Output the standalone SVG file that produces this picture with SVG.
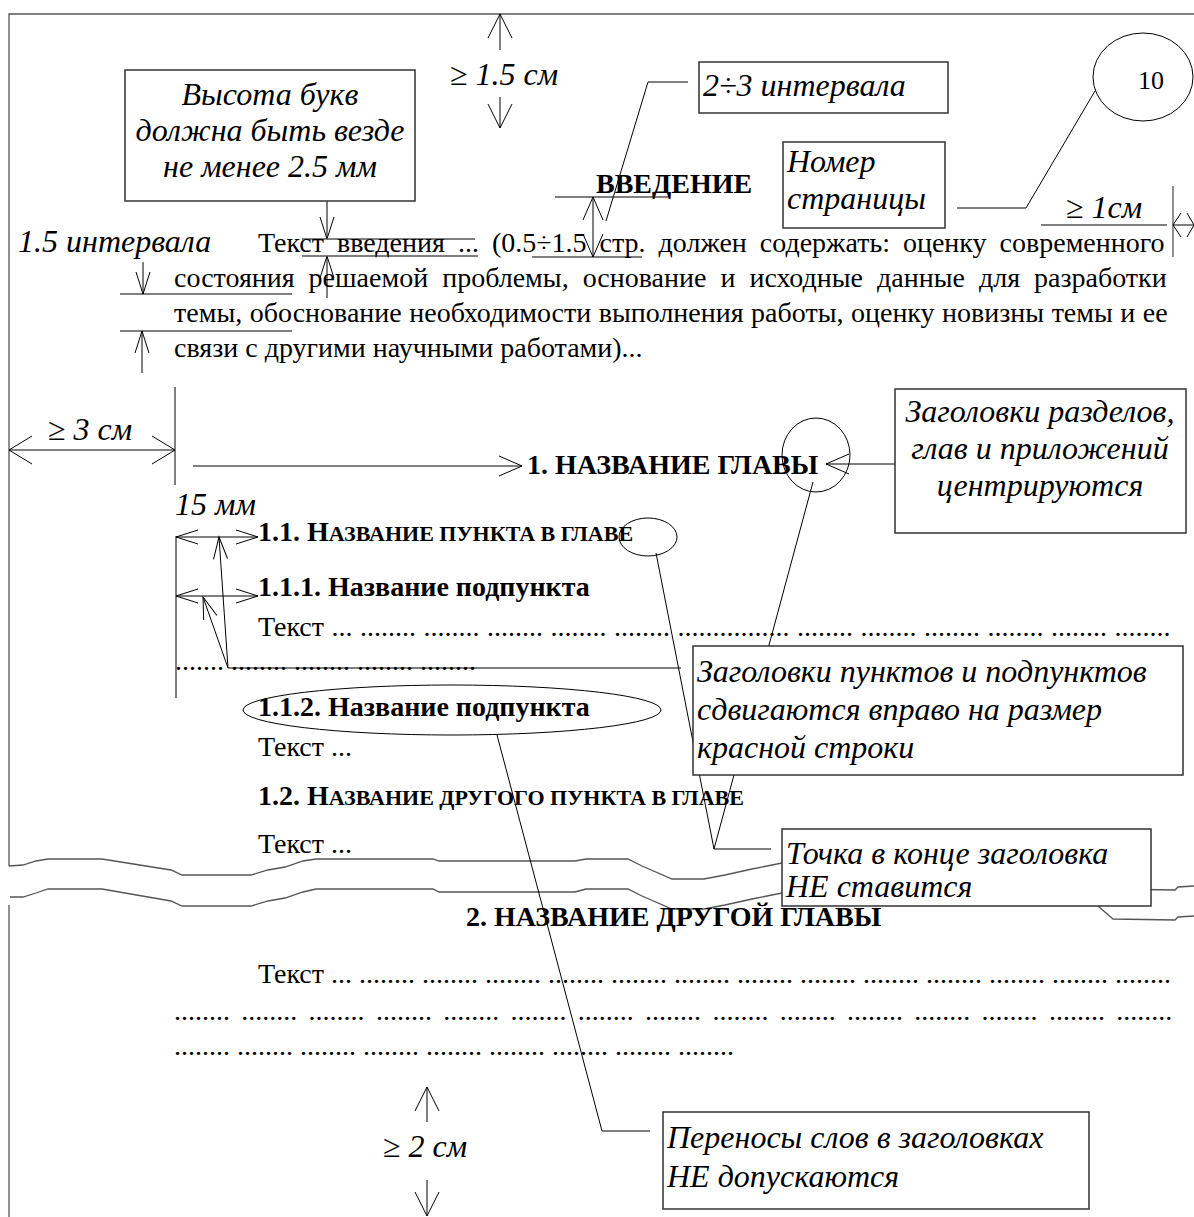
<svg xmlns="http://www.w3.org/2000/svg" width="1194" height="1217" viewBox="0 0 1194 1217">
<style>
text{font-family:"Liberation Serif","Times New Roman",serif;font-size:28px;fill:#000}
.i{font-style:italic;font-size:32px}
.b{font-weight:bold}
.sc{font-size:22px}
.ln{stroke:#000;stroke-width:1;fill:none}
.gr{stroke:#555;stroke-width:1.3;fill:none}
.box{fill:#fff;stroke:#333;stroke-width:1.5}
.el{fill:none;stroke:#000;stroke-width:1}
</style>
<defs>
<marker id="big" markerUnits="userSpaceOnUse" markerWidth="30" markerHeight="30" refX="24" refY="12" orient="auto-start-reverse" overflow="visible"><path d="M0,0 L24,12 L0,24" fill="none" stroke="#000" stroke-width="1"/></marker>
<marker id="mid" markerUnits="userSpaceOnUse" markerWidth="30" markerHeight="30" refX="23" refY="10" orient="auto-start-reverse" overflow="visible"><path d="M0,0 L23,10 L0,20" fill="none" stroke="#000" stroke-width="1"/></marker>
<marker id="thin" markerUnits="userSpaceOnUse" markerWidth="30" markerHeight="30" refX="22" refY="7" orient="auto-start-reverse" overflow="visible"><path d="M0,0 L22,7 L0,14" fill="none" stroke="#000" stroke-width="1"/></marker>
<marker id="wide" markerUnits="userSpaceOnUse" markerWidth="30" markerHeight="30" refX="23" refY="14" orient="auto-start-reverse" overflow="visible"><path d="M0,0 L23,14 L0,28" fill="none" stroke="#000" stroke-width="1"/></marker>
</defs>

<g id="page">
<path class="gr" d="M9,866 L9,14 L1194,14"/>
<path class="gr" d="M9,905 L9,1217"/>
<path class="gr" d="M9,866 L23,865 L36,861 L48,859 L102,859 L171,870 L182,875 L251,875 L268,870 L285,867 L303,861 L316,859 L433,859 L439,861 L575,861 L586,859 L628,859 L642,866 L672,879 L704,879 L725,875 L752,869 L782,863 L800,859 L1080,859 L1098,876 L1113,889 L1175,890 L1178,887 L1194,886"/>
<path class="gr" d="M10,897 L23,897 L36,893 L48,889 L102,889 L171,901 L182,906 L251,906 L268,901 L285,898 L303,892 L316,889 L433,889 L439,892 L575,892 L586,889 L628,889 L642,896 L672,909 L704,909 L725,905 L752,899 L782,893 L800,889 L1080,889 L1098,906 L1113,919 L1175,920 L1178,917 L1194,916"/>
</g>

<g id="connectors">
<line class="ln" x1="500" y1="50" x2="500" y2="14" marker-end="url(#big)"/>
<line class="ln" x1="500" y1="97" x2="500" y2="128" marker-end="url(#big)"/>
<line class="ln" x1="327" y1="201" x2="327" y2="239" marker-end="url(#thin)"/>
<line class="ln" x1="327" y1="298" x2="327" y2="256" marker-end="url(#thin)"/>
<line class="gr" x1="302" y1="239" x2="475" y2="239"/>
<line class="gr" x1="302" y1="256" x2="478" y2="256"/>
<line class="ln" x1="593" y1="197" x2="593" y2="257" marker-start="url(#mid)" marker-end="url(#mid)"/>
<line class="ln" x1="555" y1="197" x2="668" y2="197"/>
<line class="ln" x1="532" y1="257" x2="642" y2="257"/>
<polyline class="ln" points="688,82 648,82 606,221"/>
<polyline class="ln" points="957,208 1026,208 1095,91"/>
<line class="gr" x1="1041" y1="225" x2="1167" y2="225"/>
<line class="gr" x1="1173" y1="186" x2="1173" y2="257"/>
<line class="ln" x1="1173" y1="225" x2="1194" y2="225"/>
<polyline class="ln" points="1181,213 1173,225 1181,237"/>
<polyline class="ln" points="1187,213 1194,225 1187,237"/>
<line class="ln" x1="120" y1="294" x2="292" y2="294"/>
<line class="gr" x1="120" y1="331" x2="292" y2="331"/>
<line class="ln" x1="143" y1="262" x2="143" y2="294" marker-end="url(#thin)"/>
<line class="ln" x1="142" y1="373" x2="142" y2="331" marker-end="url(#thin)"/>
<line class="ln" x1="9" y1="450" x2="175" y2="450" marker-start="url(#wide)" marker-end="url(#wide)"/>
<line class="ln" x1="175" y1="387" x2="175" y2="485"/>
<line class="ln" x1="193" y1="466" x2="522" y2="466" marker-end="url(#mid)"/>
<line class="ln" x1="895" y1="464" x2="826" y2="464" marker-end="url(#mid)"/>
<line class="ln" x1="813" y1="482" x2="714" y2="849"/>
<line class="ln" x1="176" y1="537" x2="258" y2="537" marker-start="url(#thin)" marker-end="url(#thin)"/>
<line class="ln" x1="176" y1="596" x2="258" y2="596" marker-start="url(#thin)" marker-end="url(#thin)"/>
<line class="ln" x1="176" y1="536" x2="176" y2="698"/>
<line class="ln" x1="681" y1="668" x2="228" y2="668"/>
<line class="ln" x1="228" y1="668" x2="219" y2="537" marker-end="url(#thin)"/>
<line class="ln" x1="228" y1="668" x2="203" y2="597" marker-end="url(#thin)"/>
<polyline class="ln" points="656,553 714,849 771,849"/>
<polyline class="ln" points="497,735 602,1131 650,1131"/>
<line class="ln" x1="427" y1="1122" x2="427" y2="1087" marker-end="url(#big)"/>
<line class="ln" x1="427" y1="1180" x2="427" y2="1216" marker-end="url(#big)"/>
</g>

<g id="ellipses">
<ellipse class="el" cx="816" cy="455" rx="34" ry="37"/>
<ellipse class="el" cx="648" cy="537" rx="29" ry="19"/>
<ellipse class="el" cx="452" cy="710" rx="209" ry="25"/>
</g>

<g id="body-text">
<text x="18" y="252" class="i">1.5 интервала</text>
<text x="258" y="252" word-spacing="6">Текст введения ... (0.5÷1.5 стр. должен содержать: оценку современного</text>
<text x="174" y="287" word-spacing="7">состояния решаемой проблемы, основание и исходные данные для разработки</text>
<text x="174" y="322" word-spacing="0.5">темы, обоснование необходимости выполнения работы, оценку новизны темы и ее</text>
<text x="174" y="357">связи с другими научными работами)...</text>
<text x="596" y="193" class="b">ВВЕДЕНИЕ</text>
<text x="527" y="474" class="b">1. НАЗВАНИЕ ГЛАВЫ</text>
<text x="175" y="515" class="i">15 мм</text>
<text x="258" y="541" class="b">1.1. Н<tspan class="sc">АЗВАНИЕ ПУНКТА В ГЛАВЕ</tspan></text>
<text x="258" y="596" class="b">1.1.1. Название подпункта</text>
<text x="258" y="636" word-spacing="0.5">Текст ... ........ ........ ........ ........ ........ ................ ........ ........ ........ ........ ........ ........</text>
<text x="175" y="670">....... ........ ........ ........ ........</text>
<text x="258" y="716" class="b">1.1.2. Название подпункта</text>
<text x="258" y="756">Текст ...</text>
<text x="258" y="805" class="b">1.2. Н<tspan class="sc">АЗВАНИЕ ДРУГОГО ПУНКТА В ГЛАВЕ</tspan></text>
<text x="258" y="853">Текст ...</text>
</g>

<g id="labels">
<text x="450" y="85" class="i">≥ 1.5 см</text>
<text x="1066" y="218" class="i">≥ 1см</text>
<text x="48" y="440" class="i">≥ 3 см</text>
<text x="383" y="1157" class="i">≥ 2 см</text>
</g>

<g id="node-vysota">
<rect class="box" x="125" y="70" width="290" height="131"/>
<text x="270" y="105" class="i" text-anchor="middle">Высота букв</text>
<text x="270" y="141" class="i" text-anchor="middle">должна быть везде</text>
<text x="270" y="177" class="i" text-anchor="middle">не менее 2.5 мм</text>
</g>

<g id="node-interval">
<rect class="box" x="699" y="62" width="249" height="51"/>
<text x="703" y="96" class="i">2÷3 интервала</text>
</g>

<g id="node-nomer">
<rect class="box" x="783" y="142" width="162" height="86"/>
<text x="787" y="172" class="i">Номер</text>
<text x="787" y="209" class="i">страницы</text>
</g>

<g id="node-page-number">
<ellipse class="el" cx="1143" cy="77" rx="50" ry="44"/>
<text x="1151" y="89" text-anchor="middle" style="font-size:26px">10</text>
</g>

<g id="node-razdely">
<rect class="box" x="895" y="389" width="291" height="144"/>
<text x="1040" y="422" class="i" text-anchor="middle">Заголовки разделов,</text>
<text x="1040" y="459" class="i" text-anchor="middle">глав и приложений</text>
<text x="1040" y="496" class="i" text-anchor="middle">центрируются</text>
</g>

<g id="node-punkty">
<rect class="box" x="693" y="646" width="490" height="129"/>
<text x="697" y="682" class="i">Заголовки пунктов и подпунктов</text>
<text x="697" y="720" class="i">сдвигаются вправо на размер</text>
<text x="697" y="758" class="i">красной строки</text>
</g>

<g id="node-tochka">
<rect class="box" x="782" y="829" width="369" height="77"/>
<text x="786" y="864" class="i">Точка в конце заголовка</text>
<text x="786" y="897" class="i">НЕ ставится</text>
</g>

<g id="section2">
<text x="466" y="926" class="b">2. НАЗВАНИЕ ДРУГОЙ ГЛАВЫ</text>
<text x="258" y="983">Текст ... ........ ........ ........ ........ ........ ........ ........ ........ ........ ........ ........ ........ ........</text>
<text x="174" y="1020" word-spacing="4.3">........ ........ ........ ........ ........ ........ ........ ........ ........ ........  ........ ........ ........ ........ ........</text>
<text x="174" y="1055">........ ........ ........ ........ ........ ........ ........ ........ ........</text>
</g>

<g id="node-perenosy">
<rect class="box" x="663" y="1112" width="426" height="97"/>
<text x="667" y="1148" class="i">Переносы слов в заголовках</text>
<text x="667" y="1187" class="i">НЕ допускаются</text>
</g>
</svg>
